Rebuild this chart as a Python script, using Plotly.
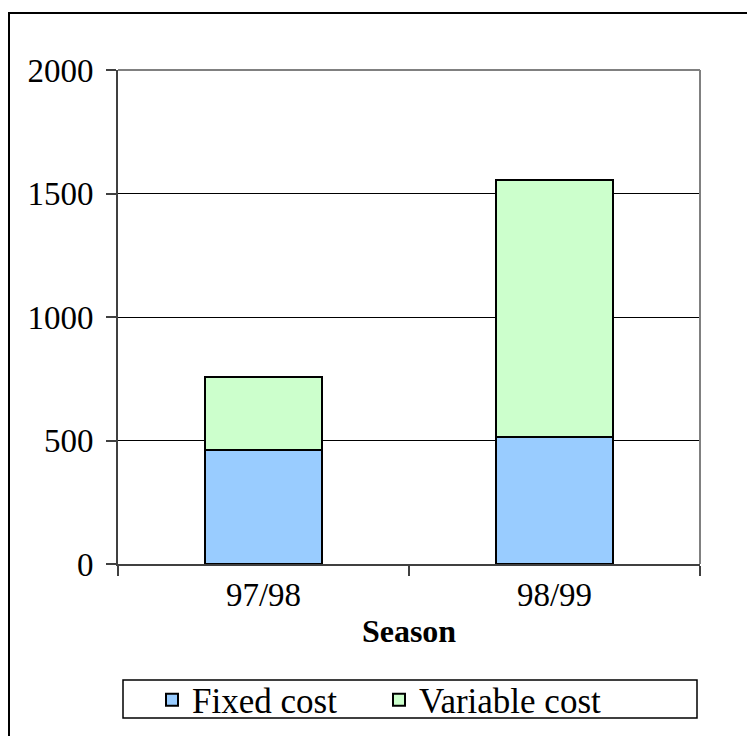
import plotly.graph_objects as go

# Cost breakdown per season
seasons = ["97/98", "98/99"]
fixed_cost = [462, 513]
variable_cost = [295, 1042]

y_ticks = [0, 500, 1000, 1500, 2000]

W, H = 747, 736
ML, MR, MT, MB = 118, 47, 70, 172
PW, PH = W - ML - MR, H - MT - MB


def px_x(p):
    return (p - ML) / PW


def px_y(p):
    return (H - MB - p) / PH


FONT = "Liberation Serif, Times New Roman, serif"
FS = 33

fig = go.Figure()
fig.add_trace(go.Bar(
    x=seasons, y=fixed_cost, name="Fixed cost",
    marker=dict(color="#99CCFF", line=dict(color="black", width=2)),
))
fig.add_trace(go.Bar(
    x=seasons, y=variable_cost, name="Variable cost",
    marker=dict(color="#CCFFCC", line=dict(color="black", width=2)),
))

shapes = [
    # chart frame
    dict(type="rect", xref="paper", yref="paper",
         x0=px_x(9), x1=px_x(780), y0=px_y(780), y1=px_y(13),
         line=dict(color="black", width=2), layer="below"),
    # plot area top and right edges
    dict(type="line", xref="paper", yref="paper", x0=0, x1=1, y0=1, y1=1,
         line=dict(color="#808080", width=2)),
    dict(type="line", xref="paper", yref="paper", x0=1, x1=1, y0=0, y1=1,
         line=dict(color="#808080", width=2)),
    # legend box
    dict(type="rect", xref="paper", yref="paper",
         x0=px_x(123), x1=px_x(697), y0=px_y(718), y1=px_y(680),
         line=dict(color="black", width=1.5)),
]

fig.update_layout(
    barmode="stack",
    bargap=0.6,
    width=W, height=H,
    margin=dict(l=ML, r=MR, t=MT, b=MB, autoexpand=False),
    paper_bgcolor="white",
    plot_bgcolor="white",
    font=dict(family=FONT, size=FS, color="black"),
    shapes=shapes,
    showlegend=True,
    legend=dict(
        orientation="h",
        xref="container", yref="container",
        x=152 / W, xanchor="left",
        y=(H - 700) / H, yanchor="middle",
        font=dict(family=FONT, size=35, color="black"),
        bgcolor="rgba(0,0,0,0)",
        borderwidth=0,
        entrywidth=182,
        traceorder="normal",
    ),
    xaxis=dict(
        automargin=False,
        showline=True, linecolor="#404040", linewidth=2,
        ticks="outside", tickson="boundaries", ticklen=10,
        tickcolor="#404040", tickwidth=1.5,
        showgrid=False,
        tickfont=dict(family=FONT, size=FS),
        title=dict(text="<b>Season</b>", font=dict(family=FONT, size=32), standoff=8),
    ),
    yaxis=dict(
        automargin=False,
        range=[0, 2000],
        tickvals=y_ticks,
        showline=True, linecolor="#404040", linewidth=2,
        ticks="outside", ticklen=10, tickcolor="#404040", tickwidth=1.5,
        ticklabelstandoff=6,
        showgrid=True, gridcolor="black", gridwidth=1,
        zeroline=False,
        tickfont=dict(family=FONT, size=FS),
    ),
)

fig.write_html("out.html")
